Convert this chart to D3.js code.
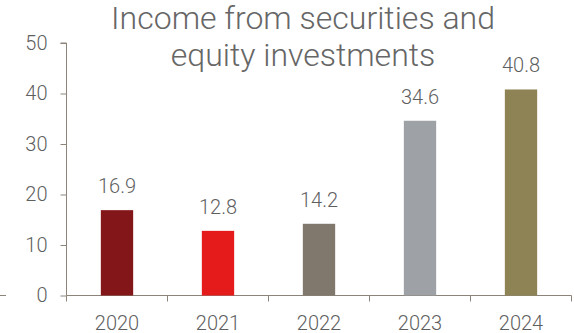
<!DOCTYPE html>
<html>
<head>
<meta charset="utf-8">
<script src="https://cdn.jsdelivr.net/npm/d3@7"></script>
<style>
  html, body { margin: 0; padding: 0; background: #fff; }
  svg { display: block; font-family: Roboto, "Noto Sans", sans-serif; font-weight: 300; }
</style>
</head>
<body>
<svg id="chart" width="574" height="333"></svg>
<script>
// Income from securities and equity investments, by year
const years = ["2020", "2021", "2022", "2023", "2024"];
const income = [16.9, 12.8, 14.2, 34.6, 40.8];
const barColors = ["#821619", "#e51a1a", "#80786d", "#9ea1a5", "#8d8355"];
const yTicks = [0, 10, 20, 30, 40, 50];
const titleLines = ["Income from securities and", "equity investments"];

const svg = d3.select("#chart");
const axisColor = "#8c847b";
const textColor = "#5f5f5f";

const x = d3.scaleBand().domain(years).range([66.5, 571.5]).paddingInner(0.68).paddingOuter(0.34);
const y = d3.scaleLinear().domain([0, 50]).range([295.5, 43]);

// y axis
const yAxis = svg.append("g")
  .attr("transform", "translate(66.5,0)")
  .call(d3.axisLeft(y).tickValues(yTicks).tickSize(6).tickPadding(13));
yAxis.select(".domain").attr("stroke", axisColor).attr("d", `M-6,${y(50)}H0V${y(0)}`);
yAxis.selectAll(".tick line").attr("stroke", axisColor);
yAxis.selectAll(".tick text")
  .attr("fill", textColor).style("font-size", "20px").style("font-family", "Roboto").style("font-weight", 300);

// x axis with ticks on category boundaries
const xAxisG = svg.append("g").attr("transform", `translate(0,${y(0)})`);
const bandEdges = years.map((d, i) => 66.5 + i * (571.5 - 66.5) / years.length).concat([571.5]);
xAxisG.append("path")
  .attr("d", `M${bandEdges[0]},0H${bandEdges[bandEdges.length - 1]}`)
  .attr("stroke", axisColor).attr("fill", "none");
xAxisG.selectAll("line.edge").data(bandEdges).join("line")
  .attr("class", "edge")
  .attr("x1", d => d).attr("x2", d => d).attr("y1", 0).attr("y2", 6)
  .attr("stroke", axisColor);
xAxisG.selectAll("text").data(years).join("text")
  .attr("x", d => x(d) + x.bandwidth() / 2)
  .attr("y", 34.5)
  .attr("text-anchor", "middle")
  .attr("fill", textColor)
  .style("font-size", "20px")
  .text(d => d);

// short baseline stub at the far left
svg.append("line")
  .attr("x1", 0).attr("x2", 6).attr("y1", y(0)).attr("y2", y(0))
  .attr("stroke", axisColor);

// bars
svg.selectAll("rect.bar").data(income).join("rect")
  .attr("class", "bar")
  .attr("x", (d, i) => x(years[i]))
  .attr("width", x.bandwidth())
  .attr("y", d => y(d))
  .attr("height", d => y(0) - y(d))
  .attr("fill", (d, i) => barColors[i]);

// value labels
svg.selectAll("text.val").data(income).join("text")
  .attr("class", "val")
  .attr("x", (d, i) => x(years[i]) + x.bandwidth() / 2)
  .attr("y", d => y(d) - 17)
  .attr("text-anchor", "middle")
  .attr("fill", textColor)
  .style("font-size", "20px")
  .text(d => d.toFixed(1));

// title
svg.append("text")
  .attr("x", 303)
  .attr("text-anchor", "middle")
  .attr("fill", "#666")
  .style("font-size", "32px")
  .selectAll("tspan").data(titleLines).join("tspan")
  .attr("x", 303)
  .attr("y", (d, i) => 29 + i * 37)
  .text(d => d);
</script>
</body>
</html>
